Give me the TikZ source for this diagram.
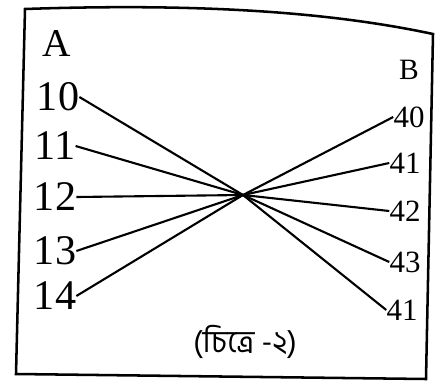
\documentclass[tikz,border=0pt]{standalone}
\usepackage{fontspec}
\setmainfont{Liberation Serif}
\newfontfamily\bengfont[Script=Bengali]{Hind Siliguri}
\usetikzlibrary{positioning}
\tikzset{
  lnum/.style={inner sep=0pt,font=\fontsize{30}{30}\selectfont},
  rnum/.style={inner sep=0pt,font=\fontsize{22}{22}\selectfont},
  ray/.style={line width=1.5pt}
}

\begin{document}
\begin{tikzpicture}[x=0.025cm,y=-0.025cm]
  \useasboundingbox (0,0) rectangle (440,387);
  % frame, top edge bowed
  \draw[line width=1.8pt] (25,9) .. controls (200,3) and (330,12) .. (433,34)
    -- (426,379) -- (16,374) -- cycle;
  % side headings
  \node[inner sep=0pt,font=\fontsize{28}{28}\selectfont] (hA) at (57,44) {A};
  \node[inner sep=0pt,font=\fontsize{21}{21}\selectfont] (hB) at (409,70) {B};
  % left column
  \node[lnum] (l10) at (58,97)  {10};
  \node[lnum] (l11) at (55,146) {11};
  \node[lnum] (l12) at (55,197) {12};
  \node[lnum] (l13) at (55,251) {13};
  \node[lnum] (l14) at (55,296) {14};
  % right column
  \node[rnum] (r40) at (409,117) {40};
  \node[rnum] (r41) at (405,163) {41};
  \node[rnum] (r42) at (405,211) {42};
  \node[rnum] (r43) at (405,262) {43};
  \node[rnum] (r41b) at (402,310) {41};
  % crossing point
  \coordinate (x) at (243,195);
  \foreach \n in {l10,l11,l12,l13,l14}
    \draw[ray] (\n.east) -- (x);
  \foreach \n in {r40,r41,r42,r43,r41b}
    \draw[ray] (x) -- (\n.west);
  % caption
  \node[inner sep=0pt,font=\bengfont\fontsize{22}{22}\selectfont] (cap) at (245,342) {(চিত্রে -২)};
\end{tikzpicture}
\end{document}
